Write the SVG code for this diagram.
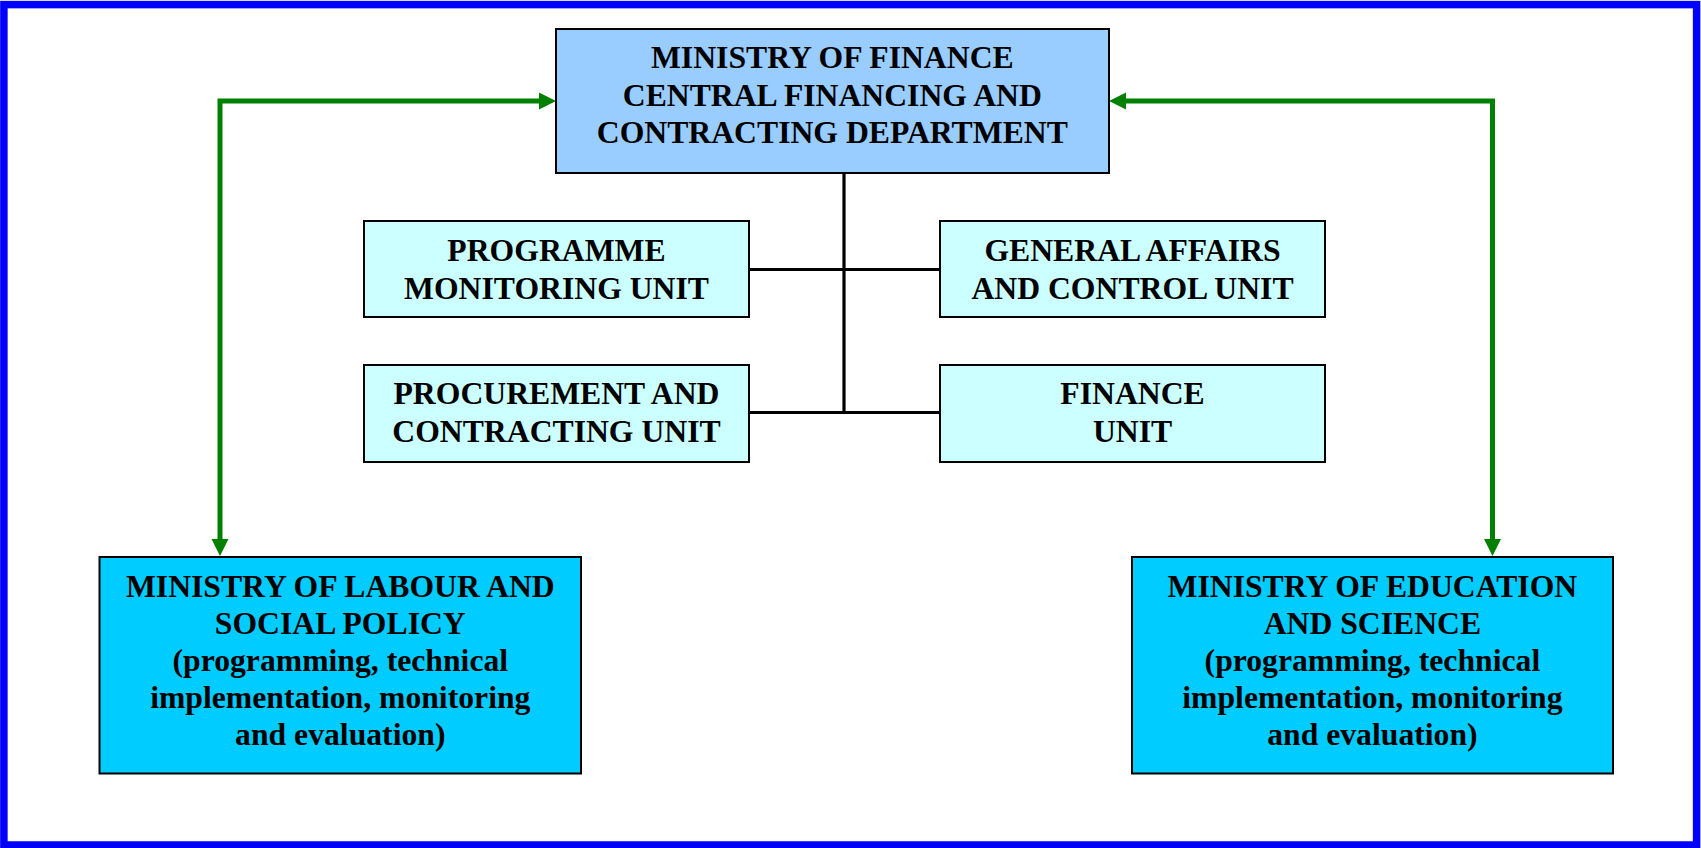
<svg xmlns="http://www.w3.org/2000/svg" width="1701" height="848" viewBox="0 0 1701 848">
<style>
.t{font-family:"Liberation Serif","Times New Roman",serif;font-weight:bold;font-size:31.7px;text-anchor:middle;fill:#000}
.box{stroke:#000;stroke-width:2}
.top{fill:#99CCFF}
.unit{fill:#CCFFFF}
.min{fill:#00CCFF}
.g{fill:none;stroke:#008000;stroke-width:5}
.gh{fill:#008000}
.k{fill:none;stroke:#000;stroke-width:3.2}
</style>
<rect x="3.9" y="4.6" width="1692.7" height="840.4" fill="#fff" stroke="#0000FF" stroke-width="7.5"/>
<g id="connectors">
<path class="g" d="M220,540 V101 H540"/>
<polygon class="gh" points="556,101 539,92.5 539,109.5"/>
<polygon class="gh" points="220,556 211.5,539 228.5,539"/>
<path class="g" d="M1492.5,540 V101 H1125"/>
<polygon class="gh" points="1109,101 1126,92.5 1126,109.5"/>
<polygon class="gh" points="1492.5,556 1484,539 1501,539"/>
<path class="k" d="M844,173 V412.5"/>
<path class="k" d="M748.6,269.5 H940"/>
<path class="k" d="M748.6,412.5 H940"/>
</g>
<g id="mof">
<rect class="box top" x="556" y="29" width="553" height="144"/>
<text class="t" x="832.3" y="68.3">MINISTRY OF FINANCE</text>
<text class="t" x="832.3" y="106">CENTRAL FINANCING AND</text>
<text class="t" x="832.3" y="143.3">CONTRACTING DEPARTMENT</text>
</g>
<g id="pmu">
<rect class="box unit" x="364" y="221" width="385" height="96"/>
<text class="t" x="556.5" y="261">PROGRAMME</text>
<text class="t" x="556.5" y="299">MONITORING UNIT</text>
</g>
<g id="gacu">
<rect class="box unit" x="940" y="221" width="385" height="96"/>
<text class="t" x="1132.5" y="261">GENERAL AFFAIRS</text>
<text class="t" x="1132.5" y="299">AND CONTROL UNIT</text>
</g>
<g id="pcu">
<rect class="box unit" x="364" y="365" width="385" height="97"/>
<text class="t" x="556.5" y="404">PROCUREMENT AND</text>
<text class="t" x="556.5" y="442">CONTRACTING UNIT</text>
</g>
<g id="fu">
<rect class="box unit" x="940" y="365" width="385" height="97"/>
<text class="t" x="1132.5" y="404">FINANCE</text>
<text class="t" x="1132.5" y="442">UNIT</text>
</g>
<g id="molsp">
<rect class="box min" x="99.5" y="557" width="481.5" height="216.5"/>
<text class="t" x="340.3" y="596.7">MINISTRY OF LABOUR AND</text>
<text class="t" x="340.3" y="633.5">SOCIAL POLICY</text>
<text class="t" x="340.3" y="670.7">(programming, technical</text>
<text class="t" x="340.3" y="708.3">implementation, monitoring</text>
<text class="t" x="340.3" y="745">and evaluation)</text>
</g>
<g id="moes">
<rect class="box min" x="1132" y="557" width="481" height="216.5"/>
<text class="t" x="1372.4" y="596.7">MINISTRY OF EDUCATION</text>
<text class="t" x="1372.4" y="633.5">AND SCIENCE</text>
<text class="t" x="1372.4" y="670.7">(programming, technical</text>
<text class="t" x="1372.4" y="708.3">implementation, monitoring</text>
<text class="t" x="1372.4" y="745">and evaluation)</text>
</g>
</svg>
